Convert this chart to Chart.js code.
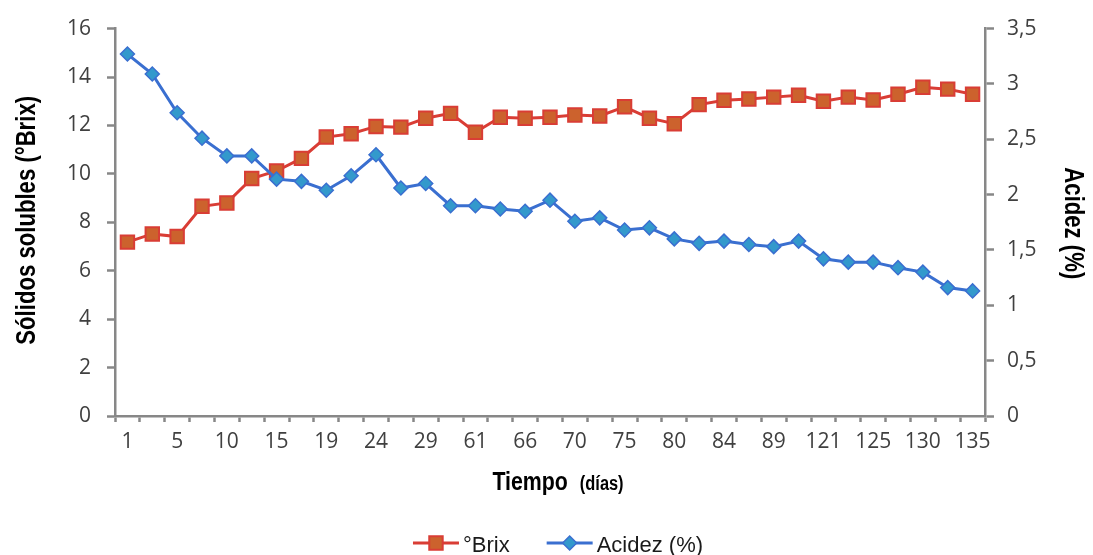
<!DOCTYPE html>
<html lang="es">
<head>
<meta charset="utf-8">
<title>Sólidos solubles y acidez</title>
<script src="https://cdn.jsdelivr.net/npm/chart.js@4.4.1/dist/chart.umd.min.js"></script>
<style>
  html, body { margin: 0; padding: 0; background: #fff; }
  #wrap { width: 1093px; height: 555px; position: relative; }
</style>
</head>
<body>
<div id="wrap"><canvas id="grafico"></canvas></div>
<script>
// Días de muestreo (se rotula uno de cada dos puntos)
const dias = ['1', '', '5', '', '10', '', '15', '', '19', '', '24', '', '29', '', '61', '', '66', '',
              '70', '', '75', '', '80', '', '84', '', '89', '', '121', '', '125', '', '130', '', '135'];

// Sólidos solubles (°Brix)
const brix = [7.18, 7.52, 7.41, 8.66, 8.80, 9.81, 10.12, 10.64, 11.52, 11.66, 11.96, 11.93,
              12.30, 12.50, 11.72, 12.34, 12.30, 12.34, 12.43, 12.39, 12.77, 12.30, 12.07,
              12.86, 13.04, 13.09, 13.17, 13.25, 13.00, 13.17, 13.05, 13.29, 13.58, 13.50, 13.29];

// Acidez titulable (%)
const acidez = [3.27, 3.09, 2.74, 2.51, 2.35, 2.35, 2.14, 2.12, 2.04, 2.17, 2.36, 2.06,
                2.10, 1.90, 1.90, 1.87, 1.85, 1.95, 1.76, 1.79, 1.68, 1.70, 1.60,
                1.56, 1.58, 1.55, 1.53, 1.58, 1.42, 1.39, 1.39, 1.34, 1.30, 1.16, 1.13];

const tituloY = 'Sólidos solubles (°Brix)';
const tituloY1 = 'Acidez (%)';

const gris = '#878787';
const texto = '#404040';
const fuenteTicks = { family: 'Open Sans', size: 21 };

// texto en negrita estrechado horizontalmente (tipo "narrow")
function textoEstrecho(ctx, txt, x, y, giro, px) {
    ctx.save();
    ctx.translate(x, y);
    ctx.rotate(giro);
    ctx.scale(0.82, 1);
    ctx.font = 'bold ' + px + 'px "Liberation Sans"';
    ctx.fillText(txt, 0, 0);
    ctx.restore();
}

function anchoEstrecho(ctx, txt, px) {
    ctx.font = 'bold ' + px + 'px "Liberation Sans"';
    return ctx.measureText(txt).width * 0.82;
}

// Títulos de ejes y leyenda con línea + marcador
const rotulosExtra = {
    id: 'rotulosExtra',
    afterDraw(chart) {
        const { ctx, chartArea } = chart;
        const centro = (chartArea.left + chartArea.right) / 2 + 8;
        const medioY = (chartArea.top + chartArea.bottom) / 2;
        ctx.save();
        ctx.textBaseline = 'alphabetic';
        ctx.fillStyle = '#000';

        // ejes verticales
        ctx.textAlign = 'center';
        textoEstrecho(ctx, tituloY, 35, medioY - 2, -Math.PI / 2, 27);
        textoEstrecho(ctx, tituloY1, chartArea.right + 80, medioY + 1, Math.PI / 2, 27);

        // eje x: "Tiempo" + "(días)" en tamaño menor
        ctx.textAlign = 'left';
        const w1 = anchoEstrecho(ctx, 'Tiempo', 26);
        const w2 = anchoEstrecho(ctx, '(días)', 20);
        const hueco = 12;
        let x = centro - (w1 + hueco + w2) / 2;
        const yBase = chartArea.bottom + 74;
        textoEstrecho(ctx, 'Tiempo', x, yBase, 0, 26);
        textoEstrecho(ctx, '(días)', x + w1 + hueco, yBase, 0, 20);

        // leyenda
        ctx.font = '22px "Liberation Sans"';
        const simbolo = 46, separacion = 4, entreItems = 37;
        const items = chart.data.datasets.map(ds => ({ ds, w: ctx.measureText(ds.label).width }));
        const total = items.reduce((s, it) => s + simbolo + separacion + it.w, 0) + entreItems * (items.length - 1);
        x = centro - total / 2;
        const yLinea = 543;
        items.forEach(({ ds, w }) => {
            ctx.strokeStyle = ds.borderColor;
            ctx.lineWidth = ds.borderWidth;
            ctx.beginPath();
            ctx.moveTo(x, yLinea);
            ctx.lineTo(x + simbolo, yLinea);
            ctx.stroke();
            ctx.fillStyle = ds.pointBackgroundColor;
            ctx.strokeStyle = ds.pointBorderColor;
            ctx.lineWidth = ds.pointBorderWidth;
            Chart.helpers.drawPoint(ctx, {
                pointStyle: ds.pointStyle,
                radius: ds.pointRadius,
                rotation: 0,
                borderWidth: ds.pointBorderWidth
            }, x + simbolo / 2, yLinea);
            ctx.fillStyle = '#1a1a1a';
            ctx.fillText(ds.label, x + simbolo + separacion, yLinea + 9);
            x += simbolo + separacion + w + entreItems;
        });
        ctx.restore();
    }
};

new Chart(document.getElementById('grafico'), {
    type: 'line',
    data: {
        labels: dias,
        datasets: [
            {
                label: '°Brix',
                data: brix,
                yAxisID: 'y',
                order: 1,
                borderColor: '#d93d35',
                borderWidth: 3,
                pointStyle: 'rect',
                pointRadius: 9.5,
                pointBackgroundColor: '#cc622d',
                pointBorderColor: '#d93d35',
                pointBorderWidth: 2,
                tension: 0
            },
            {
                label: 'Acidez (%)',
                data: acidez,
                yAxisID: 'y1',
                order: 0,
                borderColor: '#3a6fd0',
                borderWidth: 3,
                pointStyle: 'rectRot',
                pointRadius: 7,
                pointBackgroundColor: '#3399cc',
                pointBorderColor: '#3a6fd0',
                pointBorderWidth: 1.5,
                tension: 0
            }
        ]
    },
    options: {
        responsive: true,
        maintainAspectRatio: false,
        animation: false,
        layout: { padding: { top: 20, left: 0, right: 0, bottom: 0 } },
        plugins: {
            legend: { display: false },
            tooltip: { enabled: false }
        },
        scales: {
            x: {
                offset: true,
                grid: { offset: true, drawOnChartArea: false, tickLength: 6, tickWidth: 2.5, tickColor: gris },
                border: { color: gris, width: 2.5 },
                ticks: { autoSkip: false, maxRotation: 0, padding: 7, color: texto, font: fuenteTicks },
                afterFit: s => { s.height = 139; }
            },
            y: {
                position: 'left',
                min: 0,
                max: 16,
                grid: { drawOnChartArea: false, tickLength: 8, tickWidth: 2.5, tickColor: gris },
                border: { color: gris, width: 2.5 },
                ticks: { stepSize: 2, padding: 16, color: texto, font: fuenteTicks },
                afterFit: s => { s.width = 115; }
            },
            y1: {
                position: 'right',
                min: 0,
                max: 3.5,
                grid: { drawOnChartArea: false, tickLength: 9, tickWidth: 2.5, tickColor: gris },
                border: { color: gris, width: 2.5 },
                ticks: {
                    stepSize: 0.5,
                    padding: 13,
                    color: texto,
                    font: fuenteTicks,
                    callback: v => String(v).replace('.', ',')
                },
                afterFit: s => { s.width = 108; }
            }
        }
    },
    plugins: [rotulosExtra]
});
</script>
</body>
</html>
